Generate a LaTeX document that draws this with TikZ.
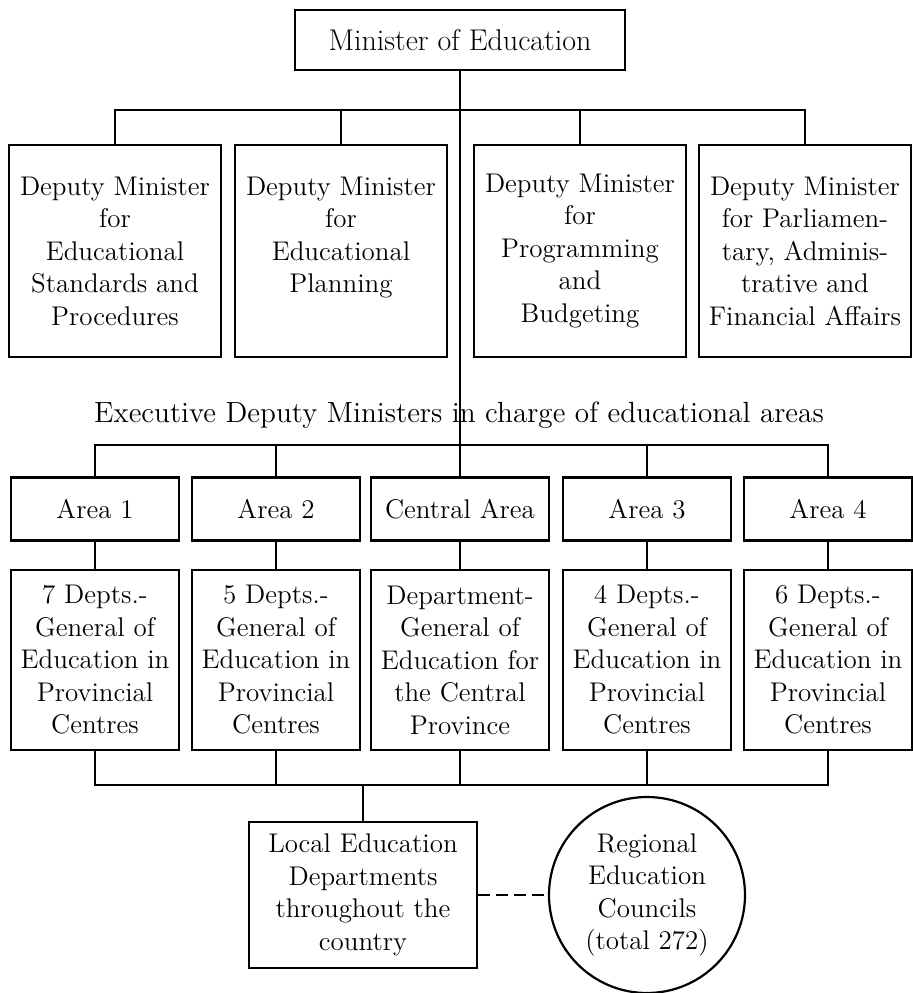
\documentclass[tikz,border=0pt]{standalone}
\usepackage{fontspec}
\usetikzlibrary{positioning, calc}
\tikzset{
  post/.style={draw, line width=1.1pt, inner sep=1pt, align=center,
               font=\fontsize{13.5}{16.25}\selectfont},
  deputy/.style={post, minimum width=106pt, minimum height=106pt},
  area/.style={post, minimum width=84pt, minimum height=31.5pt},
  dept/.style={post, minimum width=84pt, minimum height=90pt},
  council/.style={post, circle, minimum size=98pt},
  caption/.style={inner sep=0pt, font=\fontsize{14.6}{16.25}\selectfont},
  link/.style={line width=1.1pt},
}

\begin{document}
\begin{tikzpicture}[x=0.5pt, y=-0.5pt]
\useasboundingbox (0,0) rectangle (913,993);
\node[post, minimum width=165pt, minimum height=30pt, font=\fontsize{15}{16.25}\selectfont] (minister) at (460,40) {Minister of Education};

\node[deputy] (dep1) at (115,251) {Deputy Minister\\for\\Educational\\Standards and\\Procedures};
\node[deputy] (dep2) at (341,251) {Deputy Minister\\for\\Educational\\Planning\\\mbox{}};
\node[deputy] (dep3) at (580,251) {Deputy Minister\\for\\Programming\\and\\Budgeting};
\node[deputy] (dep4) at (805,251) {Deputy Minister\\for Parliamen-\\tary, Adminis-\\trative and\\Financial Affairs};

\node[caption] (exec) at (459,415) {Executive Deputy Ministers in charge of educational areas};

\node[area] (area1) at (95,509) {Area 1};
\node[area] (area2) at (276,509) {Area 2};
\node[area, minimum width=89pt] (areac) at (460,509) {Central Area};
\node[area] (area3) at (647,509) {Area 3};
\node[area] (area4) at (828,509) {Area 4};

\node[dept] (dept1) at (95,660) {7 Depts.-\\General of\\Education in\\Provincial\\Centres};
\node[dept] (dept2) at (276,660) {5 Depts.-\\General of\\Education in\\Provincial\\Centres};
\node[dept, minimum width=89pt] (deptc) at (460,660) {Department-\\General of\\Education for\\the Central\\Province};
\node[dept] (dept3) at (647,660) {4 Depts.-\\General of\\Education in\\Provincial\\Centres};
\node[dept] (dept4) at (828,660) {6 Depts.-\\General of\\Education in\\Provincial\\Centres};

\node[post, minimum width=114pt, minimum height=73pt] (local) at (363,895) {Local Education\\Departments\\throughout the\\country};
\node[council] (regional) at (647,895) {Regional\\Education\\Councils\\(total 272)};

\coordinate (topbar) at (460,110);
\coordinate (midbar) at (460,445);
\coordinate (lowbar) at (460,785);

\draw[link] (minister.south) -- (areac.north);
\draw[link] (dep1.north) |- (dep4.north |- topbar) -- (dep4.north);
\foreach \n in {dep2, dep3}
  \draw[link] (\n.north) -- (\n.north |- topbar);
\draw[link] (area1.north) |- (area4.north |- midbar) -- (area4.north);
\foreach \n in {area2, area3}
  \draw[link] (\n.north) -- (\n.north |- midbar);
\foreach \n/\m in {area1/dept1, area2/dept2, areac/deptc, area3/dept3, area4/dept4}
  \draw[link] (\n.south) -- (\m.north);
\draw[link] (dept1.south) |- (dept4.south |- lowbar) -- (dept4.south);
\foreach \n in {dept2, deptc, dept3}
  \draw[link] (\n.south) -- (\n.south |- lowbar);
\draw[link] (local.north) -- (local.north |- lowbar);
\draw[link, dash pattern=on 6pt off 3pt] (local.east) -- (regional.west);
\end{tikzpicture}
\end{document}
